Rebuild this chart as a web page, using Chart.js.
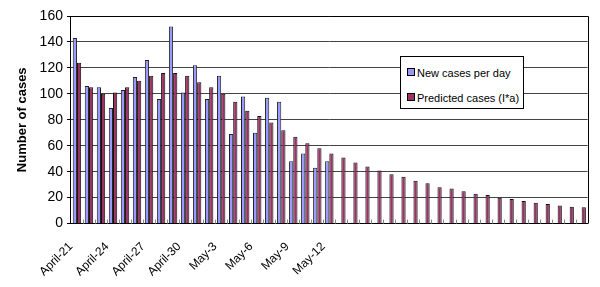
<!DOCTYPE html>
<html>
<head>
<meta charset="utf-8">
<script src="https://cdn.jsdelivr.net/npm/chart.js@4"></script>
<style>
  body { margin: 0; background: #fff; }
  #wrap { position: relative; width: 600px; height: 287px; }
  #legend {
    position: absolute; left: 400px; top: 56px; width: 122px; height: 51px;
    border: 1px solid #000; background: #fff;
    font: 11px "Liberation Sans", Arial, sans-serif; color: #000;
  }
  #legend div { position: absolute; left: 6px; white-space: nowrap; }
  #legend span { display: inline-block; width: 6px; height: 6px; border: 1px solid #000; margin-right: 2px; vertical-align: 1px; }
</style>
</head>
<body>
<div id="wrap">
  <canvas id="casesChart" width="600" height="287"></canvas>
  <div id="legend">
    <div style="top:10px"><span style="background:#9999ff"></span>New cases per day</div>
    <div style="top:35px"><span style="background:#993366"></span>Predicted cases (I*a)</div>
  </div>
</div>
<script>
  const days = [
    'April-21','April-22','April-23','April-24','April-25','April-26','April-27','April-28','April-29','April-30',
    'May-1','May-2','May-3','May-4','May-5','May-6','May-7','May-8','May-9','May-10',
    'May-11','May-12','May-13','May-14','May-15','May-16','May-17','May-18','May-19','May-20',
    'May-21','May-22','May-23','May-24','May-25','May-26','May-27','May-28','May-29','May-30',
    'May-31','June-1','June-2'
  ];
  const shownLabels = ['April-21','April-24','April-27','April-30','May-3','May-6','May-9','May-12'];

  const newCases = [143,106,105,89,103,113,126,96,152,101,122,96,114,69,98,70,97,94,48,54,43,48];
  const predicted = [124,105,100,101,105,110,114,116,116,114,109,105,100,94,87,83,78,72,67,62,58,54,
    51,47,44,41,38,36,33,31,28,27,25,23,22,20,19,17.5,16,15,14,13,12.5];

  const FONT = '"Liberation Sans", Arial, sans-serif';

  // small inward tick marks between categories + top/right border of the plot
  const frame = {
    id: 'frame',
    afterDraw(chart) {
      const { ctx, chartArea: a, scales: { x } } = chart;
      const step = x.getPixelForValue(1) - x.getPixelForValue(0);
      ctx.save();
      ctx.strokeStyle = '#888';
      ctx.lineWidth = 1;
      for (let i = 1; i < days.length; i++) {
        const px = Math.round(x.getPixelForValue(i) - step / 2) + 0.5;
        ctx.beginPath();
        ctx.moveTo(px, a.bottom);
        ctx.lineTo(px, a.bottom - 4);
        ctx.stroke();
      }
      ctx.strokeStyle = '#000';
      ctx.beginPath();
      ctx.moveTo(a.left, Math.round(a.top) + 0.5);
      ctx.lineTo(Math.round(a.right) + 0.5, Math.round(a.top) + 0.5);
      ctx.lineTo(Math.round(a.right) + 0.5, a.bottom);
      ctx.stroke();
      ctx.restore();
    }
  };

  const ctx = document.getElementById('casesChart').getContext('2d');
  new Chart(ctx, {
    type: 'bar',
    data: {
      labels: days,
      datasets: [{
        label: 'New cases per day',
        data: newCases,
        backgroundColor: '#9999ff',
        borderColor: '#222',
        borderWidth: 1
      }, {
        label: 'Predicted cases (I*a)',
        data: predicted,
        backgroundColor: '#993366',
        borderColor: '#111',
        borderWidth: 1
      }]
    },
    options: {
      responsive: false,
      animation: false,
      layout: { padding: { top: 16, right: 12, left: 11, bottom: 0 } },
      datasets: { bar: { categoryPercentage: 0.7, barPercentage: 1.0 } },
      plugins: { legend: { display: false }, tooltip: { enabled: false } },
      scales: {
        x: {
          grid: { display: false },
          border: { color: '#000', width: 1 },
          ticks: {
            autoSkip: false, minRotation: 45, maxRotation: 45, padding: 8, labelOffset: -6,
            color: '#000', font: { family: FONT, size: 12 },
            callback: function (v, i) {
              const d = days[i];
              return shownLabels.includes(d) ? d : '';
            }
          }
        },
        y: {
          min: 0, max: 160,
          grid: { color: '#444', tickLength: 4, tickColor: '#000' },
          border: { color: '#000', width: 1 },
          ticks: { stepSize: 20, color: '#000', padding: 4, font: { family: FONT, size: 14 } },
          title: {
            display: true, text: 'Number of cases', color: '#000',
            font: { family: FONT, size: 13, weight: 'bold' }, padding: { bottom: 5 }
          }
        }
      }
    },
    plugins: [frame]
  });
</script>
</body>
</html>
